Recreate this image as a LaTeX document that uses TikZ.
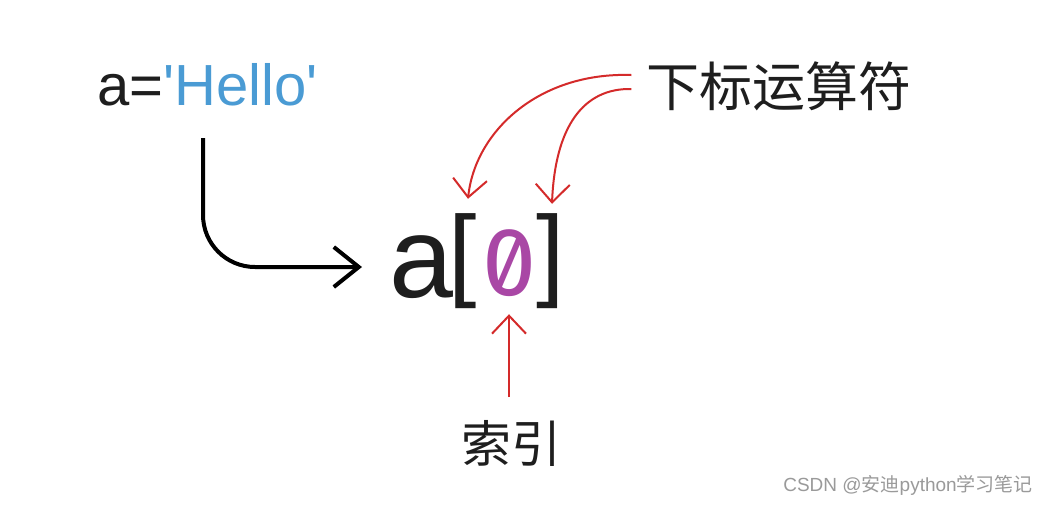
\documentclass[tikz,border=0pt]{standalone}
\usepackage{fontspec}
\setmainfont{Liberation Sans}
\newfontfamily\zerofont{Fira Sans}[Numbers=SlashedZero]
\newfontfamily\cjk{Noto Sans CJK SC}
\usetikzlibrary{arrows.meta}
\definecolor{helloblue}{HTML}{4A9BD4}
\definecolor{zeropurple}{HTML}{A947A5}
\definecolor{pointred}{HTML}{D42A2A}
\definecolor{inkgray}{HTML}{1E1E1E}
\definecolor{markgray}{HTML}{9A9A9A}
\tikzset{
  pointer/.style={draw=pointred, line width=2pt, -{Straight Barb[length=18pt,width=34pt]}},
  cntext/.style={inner sep=0pt, text=inkgray, font=\cjk\fontsize{#1}{#1}\selectfont}
}
\begin{document}
\begin{tikzpicture}[x=1pt, y=1pt]
     \useasboundingbox[fill=white] (0,0) rectangle (1049,-504);
     % assignment and subscript expression
     \node[anchor=base west, inner sep=0pt, text=inkgray, font=\fontsize{58}{60}\selectfont] (assign) at (97,-105) {a=\textcolor{helloblue}{\textquotesingle Hello\textquotesingle}};
     \node[anchor=base west, inner sep=0pt, text=inkgray, font=\fontsize{115}{120}\selectfont] (sub) at (389,-297) {a};
     \node[inner sep=0pt, text=inkgray, font=\fontsize{102}{104}\selectfont] (lbr) at (463,-261.5) {[};
     \node[inner sep=0pt, text=zeropurple, font=\zerofont\fontsize{97}{100}\selectfont] (idx) at (510,-263.5) {0};
     \node[inner sep=0pt, text=inkgray, font=\fontsize{102}{104}\selectfont] (rbr) at (551,-261.5) {]};
     % labels
     \node[cntext=53] (op) at (779,-86) {下标运算符};
     \node[cntext=50] (index) at (511,-443) {索引};
     \node[inner sep=0pt, text=markgray, font=\fontsize{19}{20}\selectfont] (mark) at (908,-485) {CSDN @{\cjk 安迪}python{\cjk 学习笔记}};
     % connectors
     \draw[line width=4pt, rounded corners=52pt, -{Straight Barb[length=25pt,width=40pt]}]
          ([xshift=106pt,yshift=-33pt]assign.base west) |- ([xshift=-27pt,yshift=30pt]sub.base west);
     \draw[pointer] ([xshift=-15pt,yshift=11pt]op.west) .. controls +(-93,3) and +(7,67) .. ([xshift=5pt,yshift=15pt]lbr.north);
     \draw[pointer] ([xshift=-15pt,yshift=-3pt]op.west) .. controls +(-48,1) and +(3,77) .. ([xshift=1pt,yshift=10pt]rbr.north);
     \coordinate (foot) at (509,-397);
     \draw[pointer] (foot) -- ([xshift=-1pt,yshift=-17pt]idx.south);
\end{tikzpicture}
\end{document}
